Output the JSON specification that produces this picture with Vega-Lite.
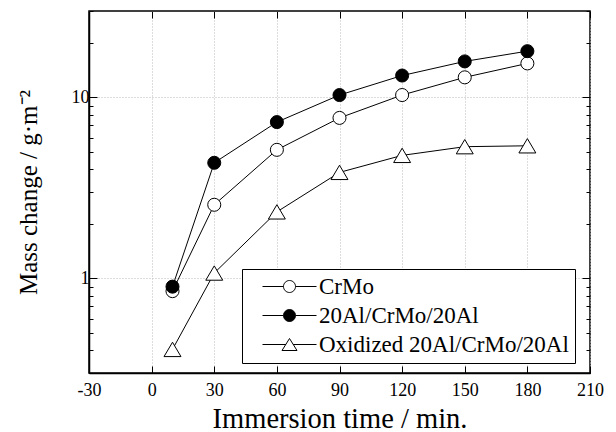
{
  "$schema": "https://vega.github.io/schema/vega-lite/v6.json",
  "width": 501,
  "height": 362,
  "autosize": {"type": "none"},
  "padding": {"left": 89, "top": 11, "right": 26, "bottom": 59},
  "background": "white",
  "config": {
    "view": {"stroke": "black", "strokeWidth": 1.5},
    "font": "Liberation Serif",
    "axis": {
      "labelFont": "Liberation Serif",
      "titleFont": "Liberation Serif",
      "labelColor": "black",
      "titleColor": "black",
      "labelFontSize": 18,
      "titleFontSize": 28,
      "titleFontWeight": "normal",
      "domainColor": "black",
      "domainWidth": 1.5,
      "tickColor": "black",
      "tickWidth": 1,
      "gridColor": "#bbbbbb",
      "gridDash": [1, 2],
      "gridWidth": 1
    },
    "legend": {"labelFont": "Liberation Serif"}
  },
  "data": {
    "values": [
      {"t": 10, "series": "CrMo", "m": 0.85},
      {"t": 30, "series": "CrMo", "m": 2.55},
      {"t": 60, "series": "CrMo", "m": 5.13},
      {"t": 90, "series": "CrMo", "m": 7.7},
      {"t": 120, "series": "CrMo", "m": 10.3},
      {"t": 150, "series": "CrMo", "m": 12.9},
      {"t": 180, "series": "CrMo", "m": 15.4},
      {"t": 10, "series": "20Al/CrMo/20Al", "m": 0.9},
      {"t": 30, "series": "20Al/CrMo/20Al", "m": 4.35},
      {"t": 60, "series": "20Al/CrMo/20Al", "m": 7.3},
      {"t": 90, "series": "20Al/CrMo/20Al", "m": 10.3},
      {"t": 120, "series": "20Al/CrMo/20Al", "m": 13.2},
      {"t": 150, "series": "20Al/CrMo/20Al", "m": 15.8},
      {"t": 180, "series": "20Al/CrMo/20Al", "m": 18.0},
      {"t": 10, "series": "Oxidized 20Al/CrMo/20Al", "m": 0.405},
      {"t": 30, "series": "Oxidized 20Al/CrMo/20Al", "m": 1.07},
      {"t": 60, "series": "Oxidized 20Al/CrMo/20Al", "m": 2.33},
      {"t": 90, "series": "Oxidized 20Al/CrMo/20Al", "m": 3.85},
      {"t": 120, "series": "Oxidized 20Al/CrMo/20Al", "m": 4.78},
      {"t": 150, "series": "Oxidized 20Al/CrMo/20Al", "m": 5.34},
      {"t": 180, "series": "Oxidized 20Al/CrMo/20Al", "m": 5.4}
    ]
  },
  "layer": [
    {
      "mark": {"type": "line", "color": "black", "strokeWidth": 1},
      "encoding": {
        "x": {
          "field": "t", "type": "quantitative",
          "scale": {"domain": [-30, 210], "nice": false, "zero": false},
          "axis": {
            "orient": "bottom",
            "title": "Immersion time / min.",
            "titleFontSize": 28.5,
            "values": [-30, 0, 30, 60, 90, 120, 150, 180, 210],
            "labelExpr": "'' + datum.value",
            "tickSize": -7,
            "labelPadding": 15,
            "labelFlush": false,
            "titlePadding": 5,
            "grid": true
          }
        },
        "y": {
          "field": "m", "type": "quantitative",
          "scale": {"type": "log", "domain": [0.3, 30], "nice": false},
          "axis": {
            "orient": "left",
            "title": "Mass change / g·m⁻²",
            "titleFontSize": 25,
            "values": [0.3, 0.4, 0.5, 0.6, 0.7, 0.8, 0.9, 1, 2, 3, 4, 5, 6, 7, 8, 9, 10, 20, 30],
            "labelExpr": "datum.value == 1 ? '1' : (datum.value == 10 ? '10' : '')",
            "tickSize": {"condition": {"test": "datum.value == 1 || datum.value == 10", "value": -8}, "value": -4},
            "gridOpacity": {"condition": {"test": "datum.value == 1 || datum.value == 10", "value": 1}, "value": 0},
            "labelPadding": 8,
            "labelFlush": false,
            "titlePadding": 30,
            "grid": true
          }
        },
        "detail": {"field": "series"}
      }
    },
    {
      "transform": [{"filter": "datum.series != 'Oxidized 20Al/CrMo/20Al'"}],
      "mark": {"type": "point", "shape": "circle", "filled": true, "stroke": "black", "strokeWidth": 1, "size": 170, "opacity": 1},
      "encoding": {
        "x": {
          "field": "t", "type": "quantitative",
          "axis": {
            "orient": "top", "title": null, "labels": false, "grid": false,
            "values": [-30, 0, 30, 60, 90, 120, 150, 180, 210],
            "tickSize": -7, "domain": false
          }
        },
        "y": {
          "field": "m", "type": "quantitative",
          "axis": {
            "orient": "right", "title": null, "labels": false, "grid": false, "domain": false,
            "values": [0.3, 0.4, 0.5, 0.6, 0.7, 0.8, 0.9, 1, 2, 3, 4, 5, 6, 7, 8, 9, 10, 20, 30],
            "tickSize": {"condition": {"test": "datum.value == 1 || datum.value == 10", "value": -8}, "value": -4}
          }
        },
        "fill": {
          "field": "series", "type": "nominal",
          "scale": {
            "domain": ["CrMo", "20Al/CrMo/20Al", "Oxidized 20Al/CrMo/20Al"],
            "range": ["white", "black", "white"]
          }
        }
      }
    },
    {
      "transform": [{"filter": "datum.series == 'Oxidized 20Al/CrMo/20Al'"}],
      "mark": {"type": "point", "shape": "M0,-1.1L1.3,1.1L-1.3,1.1Z", "filled": true, "stroke": "black", "strokeWidth": 1, "size": 170, "opacity": 1},
      "encoding": {
        "x": {"field": "t", "type": "quantitative", "axis": null},
        "y": {"field": "m", "type": "quantitative", "axis": null},
        "fill": {"field": "series", "type": "nominal"}
      }
    },
    {
      "transform": [{"filter": "datum.t < 0"}],
      "mark": {"type": "point", "filled": true, "stroke": "black", "strokeWidth": 1},
      "encoding": {
        "x": {"field": "t", "type": "quantitative", "axis": null},
        "y": {"field": "m", "type": "quantitative", "axis": null},
        "fill": {"field": "series", "type": "nominal"},
        "shape": {
          "field": "series", "type": "nominal",
          "scale": {
            "domain": ["CrMo", "20Al/CrMo/20Al", "Oxidized 20Al/CrMo/20Al"],
            "range": [
              "M0.5,0H4M6,0H9.5M4,0A1,1 0 1,0 6,0A1,1 0 1,0 4,0Z",
              "M0.5,0H4M6,0H9.5M4,0A1,1 0 1,0 6,0A1,1 0 1,0 4,0Z",
              "M0.5,0H4.4M5.6,0H9.5M5,-1L6.25,1L3.75,1Z"
            ]
          },
          "legend": {
            "title": null,
            "orient": "none",
            "legendX": 153,
            "legendY": 258,
            "strokeColor": "black",
            "fillColor": "white",
            "padding": 6,
            "labelFont": "Liberation Serif",
            "labelFontSize": 23,
            "labelColor": "black",
            "labelLimit": 400,
            "labelOffset": 48,
            "rowPadding": 5,
            "symbolSize": 144,
            "symbolStrokeColor": "black",
            "symbolStrokeWidth": 1,
            "symbolOpacity": 1
          }
        }
      }
    }
  ],
  "resolve": {
    "axis": {"x": "independent", "y": "independent"}
  }
}
